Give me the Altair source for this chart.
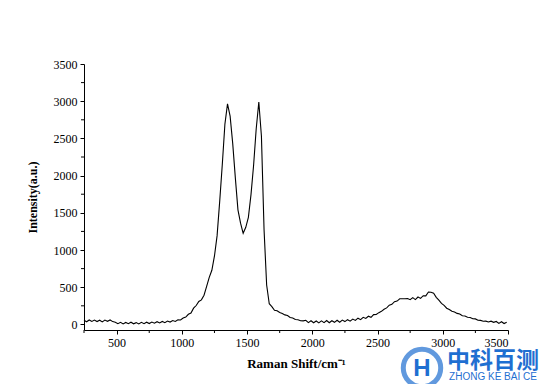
import altair as alt
import pandas as pd

# Raman shift grid (cm^-1) and intensity
shift = list(range(250, 3491, 20))
intensity = [
    55, 36, 60, 40, 58,
    38, 56, 34, 58, 42,
    60, 38, 30, 10, 28,
    6, 26, 10, 30, 8,
    24, 6, 28, 10, 30,
    12, 32, 16, 36, 20,
    40, 24, 46, 32, 52,
    40, 62, 60, 86, 98,
    136, 152, 218, 254, 308,
    330, 392, 512, 632, 728,
    920, 1190, 1650, 2150, 2690,
    2965, 2800, 2430, 1970, 1540,
    1360, 1225, 1305, 1440, 1745,
    2140, 2630, 2990, 2530, 1280,
    530, 278, 240, 190, 184,
    160, 148, 128, 120, 94,
    86, 66, 62, 50, 48,
    56, 24, 50, 22, 46,
    20, 48, 24, 52, 22,
    50, 28, 56, 30, 58,
    38, 64, 44, 72, 54,
    84, 64, 96, 80, 110,
    96, 132, 134, 158, 176,
    204, 222, 258, 270, 306,
    314, 344, 344, 346, 348,
    332, 360, 334, 368, 350,
    386, 384, 436, 432, 420,
    364, 326, 282, 256, 218,
    200, 176, 168, 148, 140,
    116, 114, 96, 94, 76,
    74, 56, 54, 42, 44,
    32, 44, 28, 40, 14,
    36, 12, 30,
]

x_major = [500, 1000, 1500, 2000, 2500, 3000, 3500]
x_minor = [250, 750, 1250, 1750, 2250, 2750, 3250]
y_major = [0, 500, 1000, 1500, 2000, 2500, 3000, 3500]
y_minor = [250, 750, 1250, 1750, 2250, 2750, 3250]

x_title = "Raman Shift/cm\u207b\u00b9"
y_title = "Intensity(a.u.)"

wm_cn = ["中科百测"]
wm_en = ["ZHONG KE BAI CE"]

df = pd.DataFrame({"shift": shift, "intensity": intensity})

SERIF = "Liberation Serif"
x_scale = alt.Scale(domain=[250, 3500], nice=False, zero=False)
y_scale = alt.Scale(domain=[-75, 3500], nice=False, zero=False)

common = dict(grid=False, domainColor="black", tickColor="black",
              labelColor="black", labelFont=SERIF, labelFontSize=12,
              titleFont=SERIF, titleColor="black", format="d",
              labelOverlap=False)

line = alt.Chart(df).mark_line(color="black", strokeWidth=1.1).encode(
    x=alt.X("shift:Q", scale=x_scale,
            axis=alt.Axis(values=x_major, orient="bottom", title=x_title,
                          tickSize=4, labelPadding=3, titleFontSize=13,
                          titleFontWeight="bold", titlePadding=9, **common)),
    y=alt.Y("intensity:Q", scale=y_scale,
            axis=alt.Axis(values=y_major, orient="left", title=y_title,
                          tickSize=4, labelPadding=3, titleFontSize=12,
                          titleFontWeight="bold", titlePadding=14, **common)),
)

hidden_x = alt.Axis(orient="bottom", title="", labels=False, ticks=False,
                    domain=False, grid=False)
hidden_y = alt.Axis(orient="left", title="", labels=False, ticks=False,
                    domain=False, grid=False)

# minor ticks, placed through the shared scales
x_minor_ticks = alt.Chart(pd.DataFrame({"v": x_minor})).mark_rule(
    color="black", strokeWidth=1
).encode(x=alt.X("v:Q", scale=x_scale, axis=hidden_x),
         y=alt.value(266), y2=alt.value(269))
y_minor_ticks = alt.Chart(pd.DataFrame({"v": y_minor})).mark_rule(
    color="black", strokeWidth=1
).encode(y=alt.Y("v:Q", scale=y_scale, axis=hidden_y),
         x=alt.value(0), x2=alt.value(-3))

BLUE = "#1f6fd1"
logo_ring = alt.Chart(pd.DataFrame({"a": [1]})).mark_point(
    shape="circle", filled=False, stroke=BLUE, strokeWidth=5, size=1400
).encode(x=alt.value(338), y=alt.value(304))
logo_h = alt.Chart(pd.DataFrame({"t": ["H"]})).mark_text(
    font="Liberation Sans", fontWeight="bold", fontSize=24, color=BLUE
).encode(x=alt.value(338), y=alt.value(305), text="t:N")
wm1 = alt.Chart(pd.DataFrame({"t": wm_cn})).mark_text(
    font="Noto Sans CJK SC", fontWeight="bold", fontSize=23, color=BLUE
).encode(x=alt.value(409), y=alt.value(297), text="t:N")
wm2 = alt.Chart(pd.DataFrame({"t": wm_en})).mark_text(
    font="Liberation Sans", fontSize=10, color=BLUE
).encode(x=alt.value(409), y=alt.value(313), text="t:N")

chart = alt.layer(line, x_minor_ticks, y_minor_ticks,
                  logo_ring, logo_h, wm1, wm2).resolve_axis(
    x="independent", y="independent"
).properties(
    width=424, height=266,
    padding={"left": 76, "top": 56, "right": 34, "bottom": 54},
    autosize=alt.AutoSizeParams(type="none"),
    background="white",
).configure_view(stroke=None)

chart.save("out.html", embed_options={"renderer": "svg", "actions": False})
